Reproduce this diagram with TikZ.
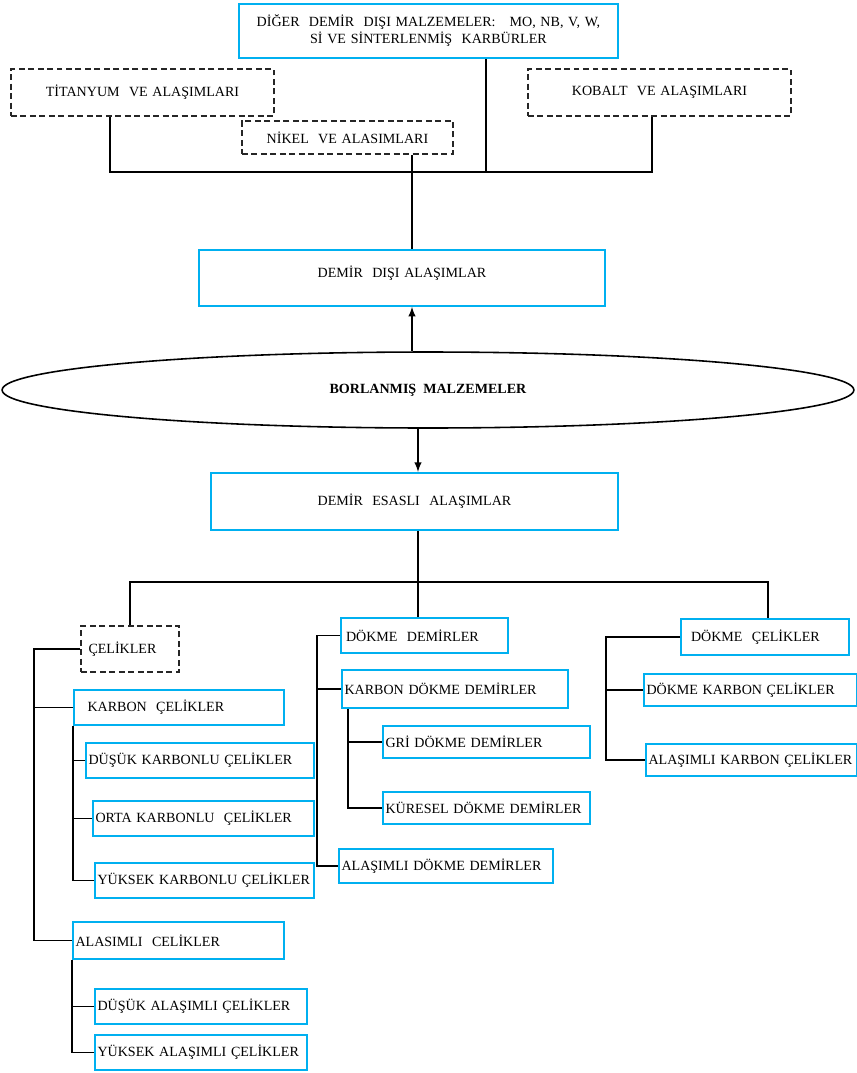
\documentclass[tikz,border=0pt]{standalone}
\usepackage{fontspec}
\setmainfont{Liberation Serif}
\usetikzlibrary{shapes.geometric}
\definecolor{boxblue}{RGB}{0,176,240}

\begin{document}
\begin{tikzpicture}[
    x=0.02cm, y=-0.02cm,
    every node/.style={text=black, font=\fontsize{8}{9.6}\selectfont},
    conn/.style={line width=0.9pt, black},
    box/.style={draw=boxblue, line width=1pt, anchor=north west, inner xsep=1.5pt, inner ysep=0pt, align=left},
    cbox/.style={box, align=center},
    dbox/.style={draw=black!85, dash pattern=on 3.4pt off 2pt, line width=1pt, anchor=north west, inner xsep=1.5pt, inner ysep=0pt, align=center},
    oval/.style={ellipse, draw, line width=0.9pt, inner sep=0pt, font=\fontsize{8}{9.6}\selectfont\bfseries}
]
    \useasboundingbox (0,0) rectangle (857,1073);

    % ==========================
    % TOP: non-ferrous groups
    % ==========================
    \node[cbox, text width=7.48cm, minimum height=1.08cm] (diger) at (238,3)
        {DİĞER\ \ DEMİR\ \ DIŞI MALZEMELER:\ \ \ MO, NB, V, W,\\ Sİ VE SİNTERLENMİŞ\ \ KARBÜRLER};
    \node[dbox, text width=5.16cm, minimum height=0.94cm] (titan) at (10,68) {TİTANYUM\ \ VE ALAŞIMLARI};
    \node[dbox, text width=4.12cm, minimum height=0.66cm] (nikel) at (241,120) {NİKEL\ \ VE ALASIMLARI};
    \node[dbox, text width=5.16cm, minimum height=0.94cm] (kobalt) at (527,68) {KOBALT\ \ VE ALAŞIMLARI};

    % ==========================
    % MIDDLE: main classes
    % ==========================
    \node[cbox, text width=8.02cm, text height=0.56cm, text depth=0.56cm] (dd) at (198,249) {DEMİR\ \ DIŞI ALAŞIMLAR};
    \node[oval, minimum width=17.04cm, minimum height=1.52cm] (borl) at (428,390) {BORLANMIŞ\ \ MALZEMELER};
    \node[cbox, text width=8.04cm, minimum height=1.14cm] (des) at (210,472) {DEMİR\ \ ESASLI\ \ ALAŞIMLAR};

    % ==========================
    % LEFT: steels
    % ==========================
    \node[dbox, align=left, text width=1.86cm, minimum height=0.92cm] (celik) at (80,625) {\hspace*{0.1cm}ÇELİKLER};
    \node[box, text width=4.10cm, minimum height=0.70cm] (kc) at (73,689) {\hspace*{0.22cm}KARBON\ \ ÇELİKLER};
    \node[box, text width=4.46cm, minimum height=0.70cm] (dkc) at (85,742) {DÜŞÜK KARBONLU ÇELİKLER};
    \node[box, text width=4.32cm, minimum height=0.70cm] (okc) at (92,800) {ORTA KARBONLU\ \ ÇELİKLER};
    \node[box, text width=4.28cm, minimum height=0.70cm] (ykc) at (94,862) {YÜKSEK KARBONLU ÇELİKLER};
    \node[box, text width=4.12cm, minimum height=0.74cm] (ac) at (72,921) {ALASIMLI\ \ CELİKLER};
    \node[box, text width=4.14cm, minimum height=0.70cm] (dac) at (94,988) {DÜŞÜK ALAŞIMLI ÇELİKLER};
    \node[box, text width=4.14cm, minimum height=0.70cm] (yac) at (94,1034) {YÜKSEK ALAŞIMLI ÇELİKLER};

    % ==========================
    % CENTRE: cast irons
    % ==========================
    \node[box, text width=3.24cm, minimum height=0.70cm] (dd2) at (340,617) {\hspace*{0.05cm}DÖKME\ \ DEMİRLER};
    \node[box, text width=4.42cm, minimum height=0.76cm] (kdd) at (341,669) {KARBON DÖKME DEMİRLER};
    \node[box, text width=4.04cm, minimum height=0.64cm] (gdd) at (382,725) {GRİ DÖKME DEMİRLER};
    \node[box, text width=4.04cm, minimum height=0.64cm] (kudd) at (382,791) {KÜRESEL DÖKME DEMİRLER};
    \node[box, text width=4.18cm, minimum height=0.68cm] (add) at (338,848) {ALAŞIMLI DÖKME DEMİRLER};

    % ==========================
    % RIGHT: cast steels
    % ==========================
    \node[box, text width=3.26cm, minimum height=0.72cm] (dc) at (680,618) {\hspace*{0.15cm}DÖKME\ \ ÇELİKLER};
    \node[box, text width=4.16cm, minimum height=0.64cm] (dkc2) at (643,673) {DÖKME KARBON ÇELİKLER};
    \node[box, text width=4.12cm, minimum height=0.64cm] (akc) at (645,743) {ALAŞIMLI KARBON ÇELİKLER};

    % junction points
    \coordinate (jTi) at (110,172);
    \coordinate (jNi) at (412,172);
    \coordinate (jDi) at (486,172);
    \coordinate (jKo) at (652,172);
    \coordinate (jDe) at (418,582);
    \coordinate (jCe) at (130,582);
    \coordinate (jDc) at (768,582);
    \coordinate (tL) at (34,648);
    \coordinate (tM) at (317,634);
    \coordinate (tK) at (348,710);
    \coordinate (tR) at (606,634);

    % connectors, top part
    \draw[conn] (titan.south -| jTi) |- (jKo) -- (kobalt.south -| jKo);
    \draw[conn] (diger.south -| jDi) -- (jDi);
    \draw[conn] (nikel.south -| jNi) -- (dd.north -| jNi);
    \draw[conn, -latex] (borl.north -| jNi) -- (dd.south -| jNi);
    \draw[conn, -latex] (borl.south -| jDe) -- (des.north -| jDe);

    % connectors, lower tree
    \draw[conn] (des.south -| jDe) -- (jDe) -- (dd2.north -| jDe);
    \draw[conn] (celik.north -| jCe) |- (jDc) -- (dc.north -| jDc);

    \draw[conn] (celik.west) -- (celik.west -| tL) |- (ac.west);
    \draw[conn] (kc.west) -- (kc.west -| tL);
    \draw[conn] (kc.south west) |- (ykc.west);
    \draw[conn] (dkc.west) -- (dkc.west -| kc.south west);
    \draw[conn] (okc.west) -- (okc.west -| kc.south west);
    \draw[conn] (ac.south west) |- (yac.west);
    \draw[conn] (dac.west) -- (dac.west -| ac.south west);

    \draw[conn] (dd2.west) -- (dd2.west -| tM) |- (add.west);
    \draw[conn] (kdd.west) -- (kdd.west -| tM);
    \draw[conn] (kdd.south -| tK) |- (kudd.west);
    \draw[conn] (gdd.west) -- (gdd.west -| tK);

    \draw[conn] (dc.west) -- (dc.west -| tR) |- (akc.west);
    \draw[conn] (dkc2.west) -- (dkc2.west -| tR);

\end{tikzpicture}
\end{document}
